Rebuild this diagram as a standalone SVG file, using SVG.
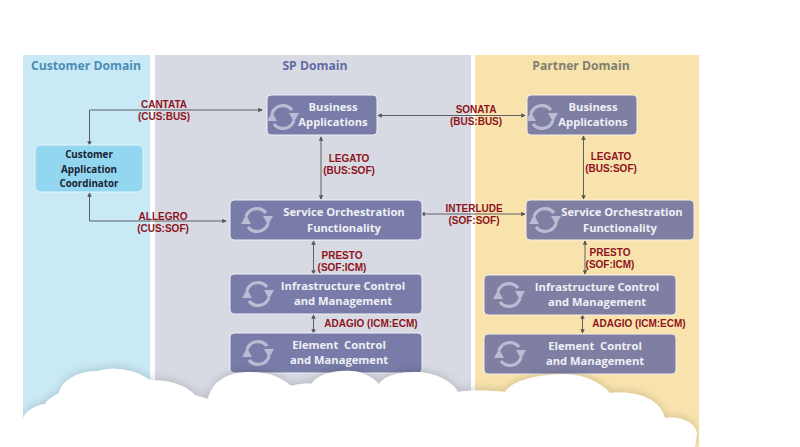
<svg xmlns="http://www.w3.org/2000/svg" width="800" height="447" viewBox="0 0 800 447">
<style>
text{font-family:"Open Sans","Liberation Sans",sans-serif;font-weight:700;text-anchor:middle}
.dom{font-size:12.200px}
.nt{font-size:11.200px;fill:#eef0f6}
.lb{font-family:"Liberation Sans",Arial,sans-serif;font-size:10px;fill:#8e1420}
.box{fill:#797ca8;stroke:#eef0f6;stroke-width:1}
.boxp{fill:#7f7fa3;stroke:#f4f0e6;stroke-width:1}
.con{fill:none;stroke:#5f5f66;stroke-width:1;marker-start:url(#a);marker-end:url(#a)}
.ico{fill:none;stroke:#b9bdd3;stroke-width:3.200}
.icoh{fill:#b9bdd3}
</style>
<defs>
<marker id="a" viewBox="0 0 6 6" refX="5" refY="3" markerWidth="4.500" markerHeight="4.500" orient="auto-start-reverse" markerUnits="userSpaceOnUse"><path d="M0 0L6 3L0 6Z" fill="#55555c"/></marker>
<g id="sync">
<path class="ico" d="M-11 -3.500A11.500 11.500 0 0 1 9 -7"/>
<path class="icoh" d="M6 -4H16L11 5Z"/>
<path class="ico" d="M11 3.500A11.500 11.500 0 0 1 -9 7"/>
<path class="icoh" d="M-6 4H-16L-11 -5Z"/>
</g>
<filter id="sh" x="-5%" y="-15%" width="110%" height="130%"><feGaussianBlur in="SourceAlpha" stdDeviation="4"/><feOffset dy="-2"/><feComponentTransfer><feFuncA type="linear" slope="0.150"/></feComponentTransfer><feMerge><feMergeNode/><feMergeNode in="SourceGraphic"/></feMerge></filter>
<clipPath id="panels"><rect x="23" y="55" width="676" height="392"/></clipPath>
</defs>
<rect width="800" height="447" fill="#fff"/>
<g id="domains">
<rect id="customer-domain" x="23" y="55" width="127" height="392" fill="#c9e9f6"/>
<rect id="sp-domain" x="155" y="55" width="316" height="392" fill="#d8dae3"/>
<rect id="partner-domain" x="475" y="55" width="224" height="392" fill="#f9e3ad"/>
<text class="dom" x="86" y="70" fill="#4a8db5">Customer Domain</text>
<text class="dom" x="315" y="70" fill="#5f6ba3">SP Domain</text>
<text class="dom" x="581" y="70" fill="#80806f">Partner Domain</text>
</g>
<g id="connectors">
<path class="con" d="M262 110H89.500V145"/>
<path class="con" d="M226 221H89.500V193"/>
<path class="con" d="M321 137V199"/>
<path class="con" d="M378 115.500H525"/>
<path class="con" d="M421 214H525"/>
<path class="con" d="M583.500 136V199"/>
<path class="con" d="M313.500 241V274"/>
<path class="con" d="M313.500 315V333"/>
<path class="con" d="M585 241V274"/>
<path class="con" d="M582.500 315V333"/>
</g>
<g id="connector-labels">
<text class="lb" y="108"><tspan x="164">CANTATA</tspan><tspan x="164" dy="12">(CUS:BUS)</tspan></text>
<text class="lb" y="220"><tspan x="163">ALLEGRO</tspan><tspan x="163" dy="12">(CUS:SOF)</tspan></text>
<text class="lb" y="162"><tspan x="349">LEGATO</tspan><tspan x="349" dy="12">(BUS:SOF)</tspan></text>
<text class="lb" y="113"><tspan x="476">SONATA</tspan><tspan x="476" dy="12">(BUS:BUS)</tspan></text>
<text class="lb" y="212"><tspan x="474">INTERLUDE</tspan><tspan x="474" dy="12">(SOF:SOF)</tspan></text>
<text class="lb" y="160"><tspan x="611">LEGATO</tspan><tspan x="611" dy="12">(BUS:SOF)</tspan></text>
<text class="lb" y="259"><tspan x="342">PRESTO</tspan><tspan x="342" dy="12">(SOF:ICM)</tspan></text>
<text class="lb" y="256"><tspan x="610">PRESTO</tspan><tspan x="610" dy="12">(SOF:ICM)</tspan></text>
<text class="lb" x="371" y="327">ADAGIO (ICM:ECM)</text>
<text class="lb" x="639" y="327">ADAGIO (ICM:ECM)</text>
</g>
<g id="coordinator"><rect x="35" y="145" width="108" height="47" rx="6" fill="#92d6f0" stroke="#e4f4fb"/>
<text font-size="9.800" fill="#1a2430" y="158"><tspan x="89">Customer</tspan><tspan x="89" dy="14.500">Application</tspan><tspan x="89" dy="14.500">Coordinator</tspan></text></g>
<g id="sp-business"><rect class="box" x="267" y="95" width="110" height="40" rx="4"/><use href="#sync" x="283" y="117"/>
<text class="nt" y="111"><tspan x="333">Business</tspan><tspan x="333" dy="15">Applications</tspan></text></g>
<g id="sp-sof"><rect class="box" x="230" y="200" width="192" height="40" rx="4"/><use href="#sync" x="257" y="220"/>
<text class="nt" y="216"><tspan x="344">Service Orchestration</tspan><tspan x="344" dy="16">Functionality</tspan></text></g>
<g id="sp-icm"><rect class="box" x="230" y="274" width="192" height="40" rx="4"/><use href="#sync" x="258" y="294"/>
<text class="nt" y="290"><tspan x="343">Infrastructure Control</tspan><tspan x="343" dy="15">and Management</tspan></text></g>
<g id="sp-ecm"><rect class="box" x="230" y="333" width="192" height="40" rx="4"/><use href="#sync" x="258" y="353"/>
<text class="nt" y="349"><tspan x="339">Element&#160; Control</tspan><tspan x="339" dy="15">and Management</tspan></text></g>
<g id="partner-business"><rect class="boxp" x="527" y="95" width="110" height="40" rx="4"/><use href="#sync" x="542" y="117"/>
<text class="nt" y="111"><tspan x="593">Business</tspan><tspan x="593" dy="15">Applications</tspan></text></g>
<g id="partner-sof"><rect class="boxp" x="526" y="200" width="168" height="40" rx="4"/><use href="#sync" x="545" y="220"/>
<text class="nt" y="216"><tspan x="622">Service Orchestration</tspan><tspan x="620" dy="16">Functionality</tspan></text></g>
<g id="partner-icm"><rect class="boxp" x="484" y="275" width="192" height="40" rx="4"/><use href="#sync" x="509" y="295"/>
<text class="nt" y="291"><tspan x="597">Infrastructure Control</tspan><tspan x="597" dy="15">and Management</tspan></text></g>
<g id="partner-ecm"><rect class="boxp" x="484" y="334" width="192" height="40" rx="4"/><use href="#sync" x="510" y="354"/>
<text class="nt" y="350"><tspan x="595">Element&#160; Control</tspan><tspan x="595" dy="15">and Management</tspan></text></g>
<g clip-path="url(#panels)"><path id="cloud" fill="#fff" filter="url(#sh)" d="M23 418C28 408 38 405 45 404C49 398 54 396 59 393C62 380 78 371 98 371C108 367 132 367 150 380C165 380 184 383 195 395L208 399C212 380 230 372 250 372C270 372 282 378 291 386C298 384 305 383 311 384C320 372 340 370 352 371C365 372 373 378 379 384C385 375 400 372 415 372C430 372 450 378 458 392C470 390 485 390 505 392C512 382 530 375 565 374C585 375 600 382 610 393C635 390 660 398 665 418C680 416 695 422 697 433L695 447H23Z"/></g>
</svg>
